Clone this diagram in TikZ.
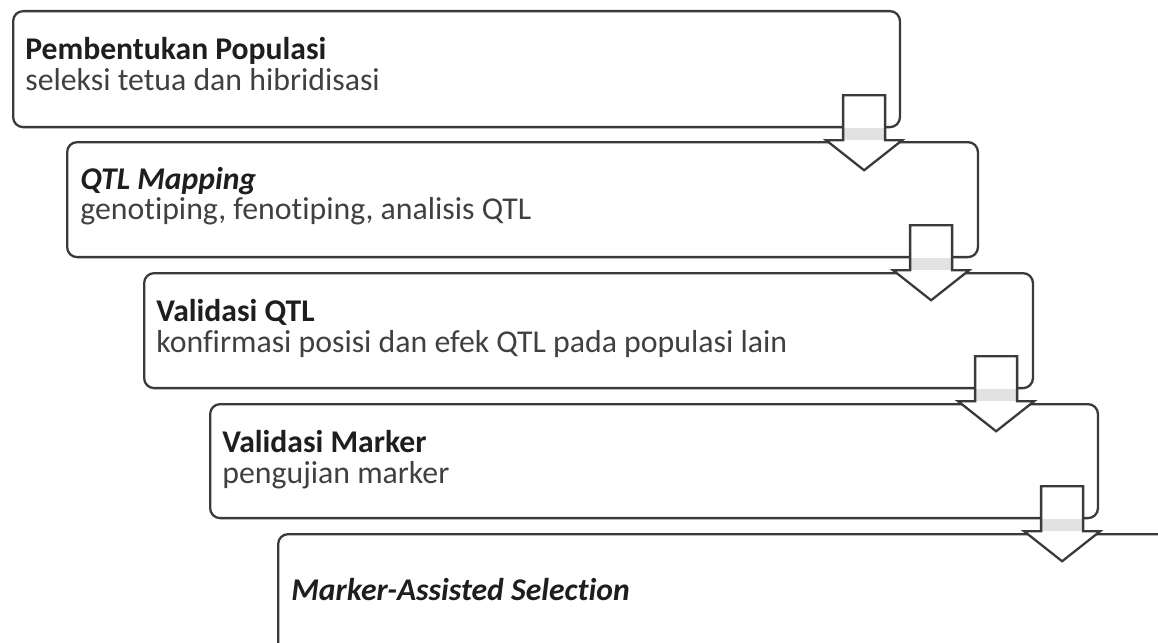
\documentclass[tikz,border=0pt]{standalone}
\usepackage{fontspec}
\setmainfont{Carlito}[Ligatures={NoCommon}]
\usepackage{xcolor}
\usetikzlibrary{positioning, calc}

\definecolor{edgegray}{HTML}{3A3A3A}
\definecolor{bandgray}{HTML}{E2E2E2}
\definecolor{titlecol}{HTML}{1E1E1E}
\definecolor{subcol}{HTML}{404040}

\tikzset{
  pics/downarrow/.style={code={
    \fill[white] (-21,-33) -- (21,-33) -- (21,12) -- (38,12) -- (0,42) -- (-38,12) -- (-21,12) -- cycle;
    \fill[bandgray] (-21,0) rectangle (21,12);   % shaded part in the gap
    \draw[edgegray, line width=1.3pt] (-21,-33) -- (21,-33) -- (21,12) -- (38,12) -- (0,42) -- (-38,12) -- (-21,12) -- cycle;
  }}
}

\begin{document}
\begin{tikzpicture}[x=0.02cm, y=-0.02cm,
    stepbox/.style={draw=edgegray, line width=1.3pt, rounded corners=0.2cm, fill=white, anchor=north west, inner sep=0pt},
    titletext/.style={anchor=base west, inner sep=0pt, text=titlecol, font=\fontsize{18}{20}\selectfont\bfseries},
    subtext/.style={anchor=base west, inner sep=0pt, text=subcol, font=\fontsize{18.1}{20}\selectfont}]
  \useasboundingbox (0,0) rectangle (1158,642);
  \clip (0,0) rectangle (1158,642);

  % the five steps
  \node [stepbox, minimum width=17.74cm, minimum height=2.32cm] (pop) at (12,10) {};
  \node [stepbox, minimum width=18.22cm, minimum height=2.30cm] (qtl) at (66,141) {};
  \node [stepbox, minimum width=17.78cm, minimum height=2.30cm] (val) at (143,272) {};
  \node [stepbox, minimum width=17.76cm, minimum height=2.28cm] (mrk) at (209,403) {};
  \node [stepbox, minimum width=18.00cm, minimum height=2.60cm] (mas) at (277,533) {};

  % texts of the steps
  \node [titletext] (popT) at ($(pop.north west)+(13,50)$) {Pembentukan Populasi};
  \node [subtext]   (popS) at ($(pop.north west)+(13,81)$) {seleksi tetua dan hibridisasi};
  \node [titletext] (qtlT) at ($(qtl.north west)+(14,48)$) {\itshape QTL Mapping};
  \node [subtext]   (qtlS) at ($(qtl.north west)+(14,78)$) {genotiping, fenotiping, analisis QTL};
  \node [titletext] (valT) at ($(val.north west)+(13,49)$) {Validasi QTL};
  \node [subtext]   (valS) at ($(val.north west)+(13,80)$) {konfirmasi posisi dan efek QTL pada populasi lain};
  \node [titletext] (mrkT) at ($(mrk.north west)+(13,49)$) {Validasi Marker};
  \node [subtext]   (mrkS) at ($(mrk.north west)+(13,80)$) {pengujian marker};
  \node [titletext] (masT) at ($(mas.north west)+(14,67)$) {\itshape Marker-Assisted Selection};

  % block arrows between the steps
  \pic at ($(pop.south east)+(-37,0)$) {downarrow};
  \pic at ($(qtl.south east)+(-48,0)$) {downarrow};
  \pic at ($(val.south east)+(-38,0)$) {downarrow};
  \pic at ($(mrk.south east)+(-37,0)$) {downarrow};
\end{tikzpicture}
\end{document}
